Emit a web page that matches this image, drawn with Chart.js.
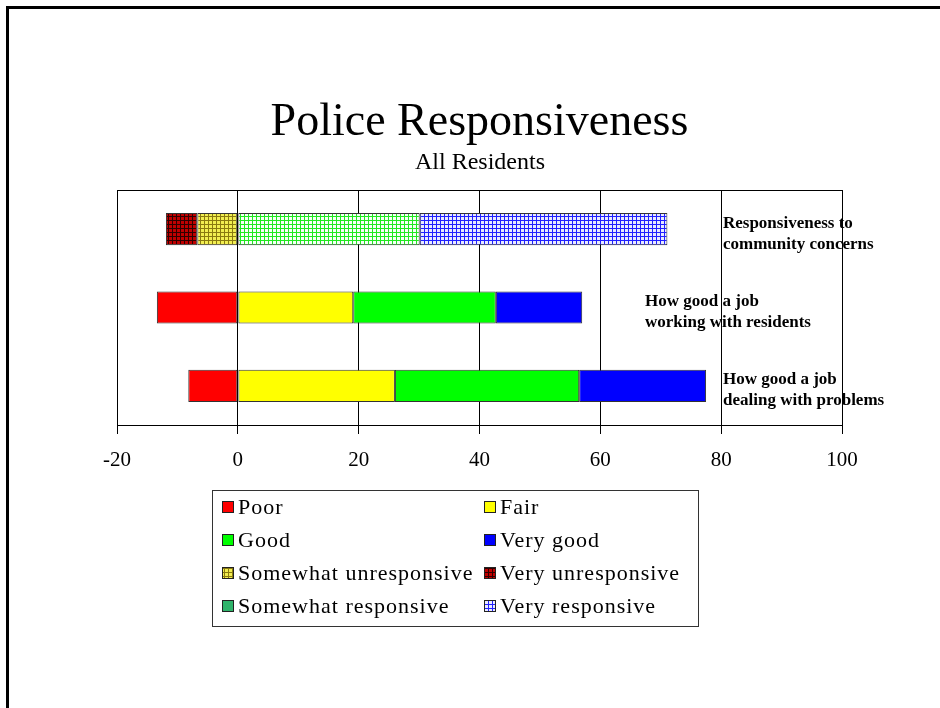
<!DOCTYPE html>
<html><head><meta charset="utf-8">
<script src="https://cdn.jsdelivr.net/npm/chart.js@4/dist/chart.umd.min.js"></script>
<style>
html,body{margin:0;padding:0;background:#fff;overflow:hidden;}
#wrap{position:relative;width:940px;height:708px;}
#frame{position:absolute;left:6px;top:6px;width:960px;height:740px;border-top:3px solid #000;border-left:3px solid #000;pointer-events:none;}
canvas{position:absolute;left:0;top:0;}
</style></head>
<body><div id="wrap"><canvas id="c" width="940" height="708"></canvas><div id="frame"></div></div>
<script>
// Survey questions (y categories), drawn as two-line captions beside the bars
const categories = [
  ['Responsiveness to', 'community concerns'],
  ['How good a job', 'working with residents'],
  ['How good a job', 'dealing with problems']
];
// Percentages per rating; negative ratings extend left of zero
const poor                 = [null, -13.4, -8.2];
const fair                 = [null, 19.1, 26.0];
const good                 = [null, 23.6, 30.5];
const veryGood             = [null, 14.3, 21.0];
const somewhatUnresponsive = [-6.7, null, null];
const veryUnresponsive     = [-5.2, null, null];
const somewhatResponsive   = [30.1, null, null];
const veryResponsive       = [41.0, null, null];
const tickValues = [-20, 0, 20, 40, 60, 80, 100];

const canvas = document.getElementById('c');
const ctx = canvas.getContext('2d');

// small cross-hatch fill used for the responsiveness segments
function gridPattern(bg, line, size) {
  const t = document.createElement('canvas');
  t.width = t.height = size;
  const g = t.getContext('2d');
  g.fillStyle = bg; g.fillRect(0, 0, size, size);
  g.fillStyle = line; g.fillRect(0, 0, size, 1); g.fillRect(0, 0, 1, size);
  return ctx.createPattern(t, 'repeat');
}

const SERIF = '"Liberation Serif", "Times New Roman", serif';

const datasets = [
  { label: 'Poor', data: poor, backgroundColor: '#ff0000' },
  { label: 'Fair', data: fair, backgroundColor: '#ffff00' },
  { label: 'Good', data: good, backgroundColor: '#00ff00' },
  { label: 'Very good', data: veryGood, backgroundColor: '#0000ff' },
  { label: 'Somewhat unresponsive', data: somewhatUnresponsive, backgroundColor: gridPattern('#f2ee50', '#8a7a10', 4) },
  { label: 'Very unresponsive', data: veryUnresponsive, backgroundColor: gridPattern('#c00000', '#300000', 4) },
  { label: 'Somewhat responsive', data: somewhatResponsive, backgroundColor: gridPattern('#f6fff6', '#20e820', 4), legendFill: '#2fb36a' },
  { label: 'Very responsive', data: veryResponsive, backgroundColor: gridPattern('#e8eaff', '#2020ff', 4) }
].map(d => Object.assign({ borderColor: '#333', borderWidth: 1, borderSkipped: false }, d));

// captions to the right of each bar; anchor given in x-axis units
const captionPlugin = {
  id: 'captions',
  afterDatasetsDraw(chart, args, opts) {
    const { ctx, scales: { x, y } } = chart;
    ctx.save();
    ctx.font = 'bold 17px ' + SERIF;
    ctx.fillStyle = '#000';
    ctx.textBaseline = 'middle';
    ctx.textAlign = 'left';
    chart.data.labels.forEach((lines, i) => {
      const px = x.getPixelForValue(opts.anchors[i]);
      const py = y.getPixelForValue(i) - 6;
      lines.forEach((t, k) => ctx.fillText(t, px, py + k * 21));
    });
    ctx.restore();
  }
};

// top border of the plot box plus titles and the two-column legend
const decorPlugin = {
  id: 'decor',
  afterDraw(chart) {
    const { ctx, chartArea: a } = chart;
    ctx.save();
    ctx.strokeStyle = '#000';
    ctx.lineWidth = 1;
    ctx.strokeRect(Math.round(a.left) + 0.5, Math.round(a.top) + 0.5, Math.round(a.right - a.left), Math.round(a.bottom - a.top));

    ctx.fillStyle = '#000';
    ctx.textAlign = 'center';
    ctx.textBaseline = 'alphabetic';
    ctx.font = '46px ' + SERIF;
    ctx.fillText('Police Responsiveness', 479.5, 135);
    ctx.font = '24px ' + SERIF;
    ctx.fillText('All Residents', 480, 169);

    // legend
    ctx.strokeStyle = '#333';
    ctx.strokeRect(212.5, 490.5, 486, 136);
    ctx.textAlign = 'left';
    ctx.textBaseline = 'middle';
    ctx.font = '22px ' + SERIF;
    if ('letterSpacing' in ctx) ctx.letterSpacing = '1px';
    chart.data.datasets.forEach((ds, i) => {
      const col = i % 2, row = Math.floor(i / 2);
      const mx = col ? 484 : 222;
      const my = 507 + row * 33;
      ctx.fillStyle = ds.legendFill || ds.backgroundColor;
      ctx.fillRect(mx, my - 6, 12, 12);
      ctx.strokeStyle = '#222';
      ctx.strokeRect(mx + 0.5, my - 5.5, 11, 11);
      ctx.fillStyle = '#000';
      ctx.fillText(ds.label, mx + 16, my + 1);
    });
    ctx.restore();
  }
};

new Chart(ctx, {
  type: 'bar',
  data: { labels: categories, datasets },
  options: {
    indexAxis: 'y',
    responsive: false,
    animation: false,
    layout: { padding: { left: 117, right: 98, top: 190, bottom: 223 } },
    datasets: { bar: { categoryPercentage: 1, barPercentage: 0.41 } },
    plugins: {
      legend: { display: false },
      title: { display: false },
      tooltip: { enabled: false },
      captions: { anchors: [80.3, 67.4, 80.3] }
    },
    scales: {
      x: {
        type: 'linear', min: -20, max: 100, stacked: true,
        afterBuildTicks: s => { s.ticks = tickValues.map(v => ({ value: v })); },
        afterFit: s => { s.height = 60; },
        grid: { color: '#000', lineWidth: 1, tickLength: 9 },
        border: { color: '#000', width: 1 },
        ticks: { color: '#000', padding: 14, font: { family: SERIF, size: 21 } }
      },
      y: { stacked: true, display: false, offset: true }
    }
  },
  plugins: [captionPlugin, decorPlugin]
});
</script>
</body></html>
